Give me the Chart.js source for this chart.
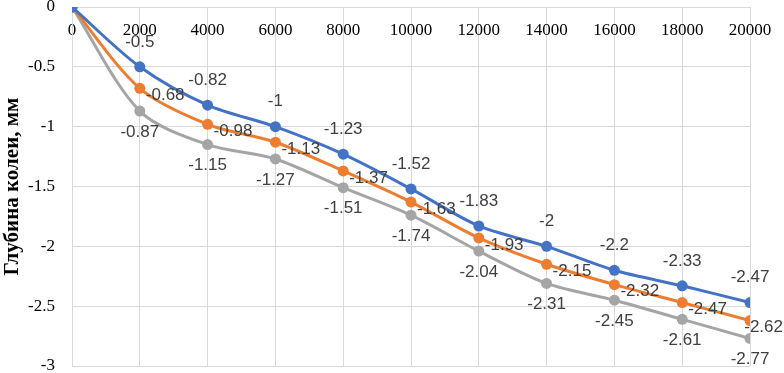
<!DOCTYPE html>
<html>
<head>
<meta charset="utf-8">
<script src="https://cdn.jsdelivr.net/npm/chart.js@4/dist/chart.umd.min.js"></script>
<style>
html,body{margin:0;padding:0;background:#fff;}
#wrap{width:784px;height:373px;position:relative;}
</style>
</head>
<body>
<div id="wrap"><canvas id="c" width="784" height="373"></canvas></div>
<script>
const categories = [0, 2000, 4000, 6000, 8000, 10000, 12000, 14000, 16000, 18000, 20000];
const seriesBlue = [0, -0.5, -0.82, -1, -1.23, -1.52, -1.83, -2, -2.2, -2.33, -2.47];
const seriesOrange = [0, -0.68, -0.98, -1.13, -1.37, -1.63, -1.93, -2.15, -2.32, -2.47, -2.62];
const seriesGray = [0, -0.87, -1.15, -1.27, -1.51, -1.74, -2.04, -2.31, -2.45, -2.61, -2.77];
const yTitle = 'Глубина колеи, мм';

const toPts = (vals) => vals.map((v, i) => ({x: categories[i], y: v}));

const labelPlugin = {
  id: 'dlabels',
  afterDatasetsDraw(chart) {
    const ctx = chart.ctx;
    ctx.save();
    ctx.font = '17px "Liberation Sans", Arial, sans-serif';
    ctx.fillStyle = '#404040';
    ctx.textBaseline = 'middle';
    chart.data.datasets.forEach((ds, di) => {
      const meta = chart.getDatasetMeta(di);
      meta.data.forEach((pt, i) => {
        if (i === 0) return;
        const txt = String(ds.data[i].y);
        const w = ctx.measureText(txt).width;
        let x, y;
        if (ds.labelPos === 'above') { x = pt.x - w / 2; y = pt.y - 25; }
        else if (ds.labelPos === 'right') { x = pt.x + 6; y = pt.y + 7; }
        else { x = pt.x - w / 2; y = pt.y + 21; }
        if (x + w > chart.width - 1) x = chart.width - 1 - w;
        if (y > chart.height - 14) y = chart.height - 14;
        ctx.textAlign = 'left';
        ctx.fillText(txt, x, y);
      });
    });
    ctx.restore();
  }
};

new Chart(document.getElementById('c'), {
  type: 'line',
  data: {
    datasets: [
      {label: 'b', data: toPts(seriesBlue), borderColor: '#4472C4', backgroundColor: '#4472C4', labelPos: 'above'},
      {label: 'o', data: toPts(seriesOrange), borderColor: '#ED7D31', backgroundColor: '#ED7D31', labelPos: 'right'},
      {label: 'g', data: toPts(seriesGray), borderColor: '#A5A5A5', backgroundColor: '#A5A5A5', labelPos: 'below'}
    ]
  },
  options: {
    responsive: false,
    animation: false,
    devicePixelRatio: 1,
    layout: {padding: {top: 7, bottom: 7, right: 34, left: 0}},
    elements: {
      line: {borderWidth: 3, tension: 0.3, fill: false},
      point: {radius: 5.5, borderWidth: 0, hoverRadius: 5.5}
    },
    plugins: {legend: {display: false}, tooltip: {enabled: false}},
    scales: {
      x: {
        type: 'linear', min: 0, max: 20000,
        position: {y: 0},
        afterFit(s) { s.height = 0; s.paddingLeft = 0; s.paddingRight = 0; s.paddingTop = 0; s.paddingBottom = 0; },
        ticks: {stepSize: 2000, color: '#000', padding: 13, maxRotation: 0, autoSkip: false,
          font: {family: '"Liberation Serif", "Times New Roman", serif', size: 17},
          callback: (v) => String(v)},
        grid: {color: '#d9d9d9', lineWidth: 1, drawTicks: false},
        border: {display: true, color: '#d9d9d9'}
      },
      y: {
        min: -3, max: 0,
        afterFit(s) { s.width = 72; s.paddingTop = 0; s.paddingBottom = 0; },
        ticks: {stepSize: 0.5, color: '#000', padding: 17,
          font: {family: '"Liberation Serif", "Times New Roman", serif', size: 17},
          callback: (v) => String(Math.round(v * 10) / 10)},
        grid: {color: '#d9d9d9', lineWidth: 1, drawTicks: false},
        border: {display: true, color: '#d9d9d9'},
        title: {display: true, text: yTitle, color: '#000', padding: {top: 0, bottom: 0},
          font: {family: '"Liberation Serif", "Times New Roman", serif', size: 21, weight: 'bold'}}
      }
    }
  },
  plugins: [labelPlugin]
});
</script>
</body>
</html>
